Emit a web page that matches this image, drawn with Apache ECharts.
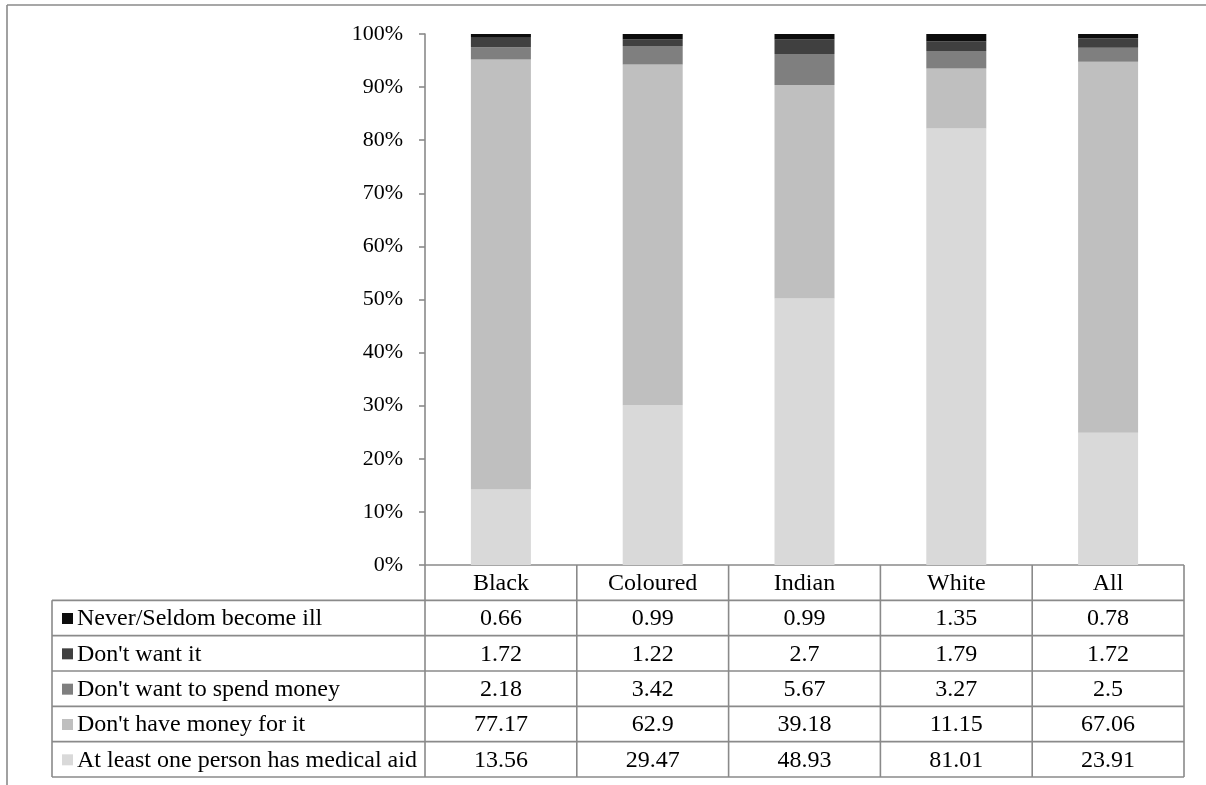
<!DOCTYPE html>
<html>
<head>
<meta charset="utf-8">
<style>
  html, body { margin: 0; padding: 0; background: #fff; }
  #chart { width: 1206px; height: 785px; }
</style>
<script src="https://cdn.jsdelivr.net/npm/echarts@6/dist/echarts.min.js"></script>
</head>
<body>
<div id="chart"></div>
<script>
// Reasons for not having medical aid, by population group
const categories = ['Black', 'Coloured', 'Indian', 'White', 'All'];

const seriesNames = [
  'At least one person has medical aid',
  "Don't have money for it",
  "Don't want to spend money",
  "Don't want it",
  'Never/Seldom become ill'
];

const medicalAid   = [13.56, 29.47, 48.93, 81.01, 23.91];
const noMoney      = [77.17, 62.9, 39.18, 11.15, 67.06];
const noSpend      = [2.18, 3.42, 5.67, 3.27, 2.5];
const dontWant     = [1.72, 1.22, 2.7, 1.79, 1.72];
const seldomIll    = [0.66, 0.99, 0.99, 1.35, 0.78];

const yTicks = [0, 10, 20, 30, 40, 50, 60, 70, 80, 90, 100];

const colors = ['#d9d9d9', '#bfbfbf', '#7f7f7f', '#404040', '#0d0d0d'];

const rawSeries = [medicalAid, noMoney, noSpend, dontWant, seldomIll];

// Each column is shown as a share of its own total (100% stacked)
const totals = categories.map((_, i) => rawSeries.reduce((s, arr) => s + arr[i], 0));
const pctSeries = rawSeries.map(arr => arr.map((v, i) => v / totals[i] * 100));

const FONT = '"Liberation Serif", "Times New Roman", serif';
const LINE = '#8a8a8a';

// Plot and table layout
const W = 1206, H = 785;
const plotLeft = 425, plotRight = 1184, plotTop = 34, plotBottom = 565;
const tableLeft = 52, tableBottom = 777;
const nRows = 6; // header + 5 series rows
const rowH = (tableBottom - plotBottom) / nRows;
const colW = (plotRight - plotLeft) / categories.length;

const chart = echarts.init(document.getElementById('chart'), null, { renderer: 'canvas' });

const series = seriesNames.map((name, k) => ({
  name,
  type: 'bar',
  stack: 'total',
  barWidth: 60,
  itemStyle: { color: colors[k] },
  data: pctSeries[k]
}));

// Data table beneath the plot
const graphics = [];
function hLine(x1, x2, y) {
  graphics.push({ type: 'line', silent: true, shape: { x1, y1: y, x2, y2: y },
    style: { stroke: LINE, lineWidth: 1.6 } });
}
function vLine(x, y1, y2) {
  graphics.push({ type: 'line', silent: true, shape: { x1: x, y1, x2: x, y2 },
    style: { stroke: LINE, lineWidth: 1.6 } });
}
function cellText(text, x, y, align) {
  graphics.push({ type: 'text', silent: true, x, y,
    style: { text, font: '24px ' + FONT, fill: '#000', align: align || 'center', verticalAlign: 'middle' } });
}

// Outer frame of the figure
hLine(7, W, 5);
vLine(7, 5, H);

// Header row (category names)
hLine(plotLeft, plotRight, plotBottom);
categories.forEach((c, i) => cellText(c, plotLeft + colW * (i + 0.5), plotBottom + rowH * 0.5 + 1));

// Series rows, from the top of the stack down
const rowOrder = [4, 3, 2, 1, 0];
rowOrder.forEach((k, r) => {
  const yTop = plotBottom + rowH * (r + 1);
  const yMid = yTop + rowH / 2 + 1;
  hLine(tableLeft, plotRight, yTop);
  graphics.push({ type: 'rect', silent: true,
    shape: { x: 62, y: yMid - 6, width: 11, height: 11 },
    style: { fill: colors[k] } });
  cellText(seriesNames[k], 77, yMid, 'left');
  rawSeries[k].forEach((v, i) => cellText(String(v), plotLeft + colW * (i + 0.5), yMid));
});
hLine(tableLeft, plotRight, tableBottom);

// Column dividers
vLine(tableLeft, plotBottom + rowH, tableBottom);
for (let i = 0; i <= categories.length; i++) {
  vLine(plotLeft + colW * i, plotBottom, tableBottom);
}

chart.setOption({
  animation: false,
  backgroundColor: '#fff',
  grid: { left: plotLeft, right: W - plotRight, top: plotTop, bottom: H - plotBottom, containLabel: false },
  xAxis: {
    type: 'category',
    data: categories,
    axisLine: { show: false },
    axisTick: { show: false },
    axisLabel: { show: false },
    splitLine: { show: false }
  },
  yAxis: {
    type: 'value',
    min: yTicks[0],
    max: yTicks[yTicks.length - 1],
    interval: yTicks[1] - yTicks[0],
    axisLine: { show: true, lineStyle: { color: LINE, width: 1.6 } },
    axisTick: { show: true, length: 6, lineStyle: { color: LINE, width: 1.6 } },
    axisLabel: { formatter: '{value}%', fontFamily: FONT, fontSize: 22, color: '#000', margin: 22 },
    splitLine: { show: false }
  },
  series,
  graphic: graphics
});
</script>
</body>
</html>
